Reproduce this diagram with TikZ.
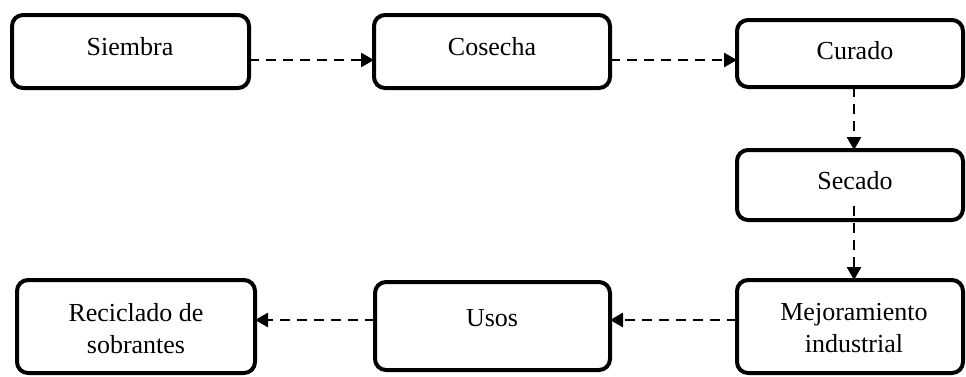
\documentclass[tikz,border=0pt]{standalone}
\usepackage{fontspec}
\setmainfont{Liberation Serif}
\usetikzlibrary{arrows.meta}

\tikzset{
  stage/.style={draw=black, line width=4pt, rounded corners=11pt, fill=white,
                inner sep=0pt, outer sep=0pt},
  caption/.style={anchor=base, align=center, inner sep=0pt,
                  font=\fontsize{26pt}{32pt}\selectfont},
  flow/.style={line width=2.7pt, dash pattern=on 10pt off 7pt,
               -{Triangle[length=13pt,width=14pt]}},
}

\begin{document}
\begin{tikzpicture}[x=1pt,y=-1pt]
  \useasboundingbox (0,0) rectangle (966,376);
  \clip (0,0) rectangle (966,376);

  % process boxes (path centred, sized between outer border edges)
  \node[stage, minimum width=237pt, minimum height=73pt] (siembra)   at (130.5,51.5) {};
  \node[stage, minimum width=236pt, minimum height=73pt] (cosecha)   at (492,51.5) {};
  \node[stage, minimum width=226pt, minimum height=67pt] (curado)    at (850,53.5) {};
  \node[stage, minimum width=226pt, minimum height=70pt] (secado)    at (850,185) {};
  \node[stage, minimum width=226pt, minimum height=93pt] (mejora)    at (850,326.5) {};
  \node[stage, minimum width=235pt, minimum height=88pt] (usos)      at (492.5,326) {};
  \node[stage, minimum width=238pt, minimum height=93pt] (reciclado) at (136,326.5) {};

  % labels (base anchor sits on the last line's baseline)
  \node[caption] (siembra-t)   at (130,55)  {Siembra};
  \node[caption] (cosecha-t)   at (492,55)  {Cosecha};
  \node[caption] (curado-t)    at (855,59)  {Curado};
  \node[caption] (secado-t)    at (855,189) {Secado};
  \node[caption] (mejora-t)    at (854,352) {Mejoramiento\\industrial};
  \node[caption] (usos-t)      at (492,326) {Usos};
  \node[caption] (reciclado-t) at (136,353) {Reciclado de\\sobrantes};

  % flow between stages
  \draw[flow] ([yshift=-8.5pt]siembra.east) -- ([yshift=-8.5pt]cosecha.west);
  \draw[flow] ([yshift=-8.5pt]cosecha.east) -- ([yshift=-6.5pt]curado.west);
  \draw[flow] ([xshift=4pt]curado.south) -- ([xshift=4pt]secado.north);
  \draw[flow] ([xshift=4pt,yshift=14pt]secado.south) -- ([xshift=4pt]mejora.north);
  \draw[flow] ([yshift=6.5pt]mejora.west) -- ([yshift=6pt]usos.east);
  \draw[flow] ([yshift=6pt]usos.west) -- ([yshift=6.5pt]reciclado.east);
\end{tikzpicture}
\end{document}
